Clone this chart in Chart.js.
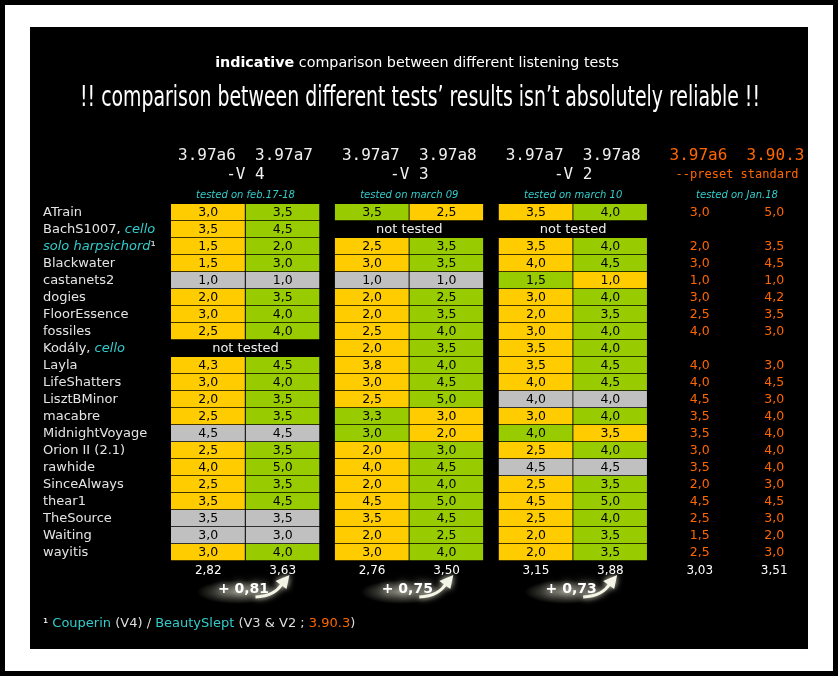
<!DOCTYPE html>
<html>
<head>
<meta charset="utf-8">
<title>listening tests comparison</title>
<script src="https://cdn.jsdelivr.net/npm/chart.js@4.4.1/dist/chart.umd.min.js"></script>
<style>
  html, body { margin: 0; padding: 0; background: #000; }
  #frame { position: absolute; left: 5px; top: 5px; width: 828px; height: 666px; background: #fff; }
  #panel { position: absolute; left: 25px; top: 22px; width: 778px; height: 622px; background: #000; }
  canvas { display: block; }
</style>
</head>
<body>
<div id="frame"><div id="panel"><canvas id="chart" width="778" height="622" style="width:778px;height:622px"></canvas></div></div>
<script>
// samples (rows of the table)
const rows = ['ATrain', 'BachS1007, cello', 'solo harpsichord¹', 'Blackwater', 'castanets2', 'dogies',
    'FloorEssence', 'fossiles', 'Kodály, cello', 'Layla', 'LifeShatters', 'LisztBMinor', 'macabre',
    'MidnightVoyage', 'Orion II (2.1)', 'rawhide', 'SinceAlways', 'thear1', 'TheSource', 'Waiting', 'wayitis'];
const cyanWords = ['solo harpsichord', 'cello'];

// notes per column (null = not tested)
const v4_a6 = [3.0, 3.5, 1.5, 1.5, 1.0, 2.0, 3.0, 2.5, null, 4.3, 3.0, 2.0, 2.5, 4.5, 2.5, 4.0, 2.5, 3.5, 3.5, 3.0, 3.0];
const v4_a7 = [3.5, 4.5, 2.0, 3.0, 1.0, 3.5, 4.0, 4.0, null, 4.5, 4.0, 3.5, 3.5, 4.5, 3.5, 5.0, 3.5, 4.5, 3.5, 3.0, 4.0];
const v3_a7 = [3.5, null, 2.5, 3.0, 1.0, 2.0, 2.0, 2.5, 2.0, 3.8, 3.0, 2.5, 3.3, 3.0, 2.0, 4.0, 2.0, 4.5, 3.5, 2.0, 3.0];
const v3_a8 = [2.5, null, 3.5, 3.5, 1.0, 2.5, 3.5, 4.0, 3.5, 4.0, 4.5, 5.0, 3.0, 2.0, 3.0, 4.5, 4.0, 5.0, 4.5, 2.5, 4.0];
const v2_a7 = [3.5, null, 3.5, 4.0, 1.5, 3.0, 2.0, 3.0, 3.5, 3.5, 4.0, 4.0, 3.0, 4.0, 2.5, 4.5, 2.5, 4.5, 2.5, 2.0, 2.0];
const v2_a8 = [4.0, null, 4.0, 4.5, 1.0, 4.0, 3.5, 4.0, 4.0, 4.5, 4.5, 4.0, 4.0, 3.5, 4.0, 4.5, 3.5, 5.0, 4.0, 3.5, 3.5];
const aps_a6 = [3.0, null, 2.0, 3.0, 1.0, 3.0, 2.5, 4.0, null, 4.0, 4.0, 4.5, 3.5, 3.5, 3.0, 3.5, 2.0, 4.5, 2.5, 1.5, 2.5];
const aps_903 = [5.0, null, 3.5, 4.5, 1.0, 4.2, 3.5, 3.0, null, 3.0, 4.5, 3.0, 4.0, 4.0, 4.0, 4.0, 3.0, 4.5, 3.0, 2.0, 3.0];

const columnAverages = [2.82, 3.63, 2.76, 3.50, 3.15, 3.88, 3.03, 3.51];
const groupGains = [0.81, 0.75, 0.73];

// column headers
const groupEncoders = ['3.97a6  3.97a7', '3.97a7  3.97a8', '3.97a7  3.97a8', '3.97a6  3.90.3'];
const groupPresets = ['-V 4', '-V 3', '-V 2', '--preset standard'];
const groupDates = ['tested on feb.17-18', 'tested on march 09', 'tested on march 10', 'tested on Jan.18'];

const columns = [v4_a6, v4_a7, v3_a7, v3_a8, v2_a7, v2_a8, aps_a6, aps_903];

const ORANGE = '#ffcc00';
const GREEN = '#99cc00';
const GRAY = '#c0c0c0';
const RED_TEXT = '#ff6600';
const CYAN = '#33cccc';
const LABEL = '#e4e4e4';
const GROUP_STEP = 2.2;   // 2 columns + gap

const fmt = (v, d) => v.toFixed(d).replace('.', ',');
const slotStart = c => Math.floor(c / 2) * GROUP_STEP + (c % 2);

function cellColor(c, i) {
    if (c >= 6) return 'rgba(0,0,0,0)';
    const mine = columns[c][i];
    const other = columns[c ^ 1][i];
    if (mine === other) return GRAY;
    return mine > other ? GREEN : ORANGE;
}

// draws a list of [text, font, color] pieces one after the other
function drawParts(ctx, parts, x, y, align) {
    let total = 0;
    parts.forEach(p => { ctx.font = p[1]; total += ctx.measureText(p[0]).width; });
    let cx = align === 'center' ? x - total / 2 : x;
    ctx.textAlign = 'left';
    parts.forEach(p => {
        ctx.font = p[1];
        ctx.fillStyle = p[2];
        ctx.fillText(p[0], cx, y);
        cx += ctx.measureText(p[0]).width;
    });
}

function rowParts(label) {
    const plain = '13px "DejaVu Sans", sans-serif';
    const ital = 'italic 13px "DejaVu Sans", sans-serif';
    for (const w of cyanWords) {
        const k = label.indexOf(w);
        if (k >= 0) {
            return [[label.slice(0, k), plain, LABEL], [w, ital, CYAN], [label.slice(k + w.length), plain, LABEL]];
        }
    }
    return [[label, plain, LABEL]];
}

function drawGain(ctx, cx, cy, gain) {
    // soft glow trail
    ctx.save();
    ctx.translate(cx - 8, cy + 3);
    ctx.scale(3.4, 1);
    const g = ctx.createRadialGradient(0, 0, 0, 0, 0, 12);
    g.addColorStop(0, 'rgba(230,230,210,0.55)');
    g.addColorStop(1, 'rgba(230,230,210,0)');
    ctx.fillStyle = g;
    ctx.beginPath();
    ctx.arc(0, 0, 12, 0, Math.PI * 2);
    ctx.fill();
    ctx.restore();

    // curved arrow
    ctx.save();
    ctx.shadowColor = 'rgba(255,255,235,0.9)';
    ctx.shadowBlur = 6;
    ctx.strokeStyle = '#f4f4e6';
    ctx.fillStyle = '#f4f4e6';
    ctx.lineWidth = 3;
    ctx.beginPath();
    ctx.moveTo(cx + 10, cy + 8);
    ctx.quadraticCurveTo(cx + 30, cy + 7, cx + 37, cy - 6);
    ctx.stroke();
    ctx.beginPath();
    ctx.moveTo(cx + 44, cy - 14);
    ctx.lineTo(cx + 30, cy - 8);
    ctx.lineTo(cx + 41, cy);
    ctx.closePath();
    ctx.fill();

    ctx.shadowColor = 'rgba(255,255,235,0.8)';
    ctx.shadowBlur = 8;
    ctx.fillStyle = '#ffffff';
    ctx.font = 'bold 14px "DejaVu Sans", sans-serif';
    ctx.textAlign = 'center';
    ctx.textBaseline = 'middle';
    ctx.fillText('+ ' + fmt(gain, 2), cx - 2, cy);
    ctx.restore();
}

const tablePlugin = {
    id: 'tableText',
    afterDatasetsDraw(chart) {
        const ctx = chart.ctx;
        const xs = chart.scales.x;
        const ys = chart.scales.y;
        ctx.save();
        ctx.textBaseline = 'middle';

        // titles
        drawParts(ctx, [
            ['indicative', 'bold 14.3px "DejaVu Sans", sans-serif', '#ffffff'],
            [' comparison between different listening tests', '14.3px "DejaVu Sans", sans-serif', '#ffffff']
        ], 387, 36, 'center');
        ctx.font = '29px "DejaVu Sans Condensed", "Liberation Sans Narrow", sans-serif';
        ctx.fillStyle = '#ffffff';
        ctx.textAlign = 'center';
        ctx.fillText('!! comparison between different tests\u2019 results isn\u2019t absolutely reliable !!', 390, 71, 680);

        // group headers
        for (let g = 0; g < 4; g++) {
            const cx = xs.getPixelForValue(g * GROUP_STEP + 1);
            const head = g === 3 ? RED_TEXT : '#f0f0f0';
            ctx.textAlign = 'center';
            ctx.fillStyle = head;
            ctx.font = '16px "DejaVu Sans Mono", monospace';
            ctx.fillText(groupEncoders[g], cx, 129);
            ctx.font = (g === 3 ? '12px' : '16px') + ' "DejaVu Sans Mono", monospace';
            ctx.fillText(groupPresets[g], cx, 148);
            ctx.font = 'italic 10px "DejaVu Sans", sans-serif';
            ctx.fillStyle = CYAN;
            ctx.fillText(groupDates[g], cx, 168);
        }

        // row labels
        rows.forEach((r, i) => drawParts(ctx, rowParts(r), 13, ys.getPixelForValue(i), 'left'));

        // cell values
        ctx.textAlign = 'center';
        ctx.font = '12.5px "DejaVu Sans", sans-serif';
        columns.forEach((col, c) => {
            const meta = chart.getDatasetMeta(c);
            meta.data.forEach((bar, i) => {
                const v = col[i];
                if (v == null) return;
                const p = bar.getProps(['x', 'y', 'base'], true);
                ctx.fillStyle = c >= 6 ? RED_TEXT : '#000000';
                ctx.fillText(fmt(v, 1), (p.x + p.base) / 2, p.y);
            });
        });

        // not tested
        ctx.fillStyle = '#f0f0f0';
        ctx.font = '13px "DejaVu Sans", sans-serif';
        rows.forEach((r, i) => {
            for (let g = 0; g < 3; g++) {
                if (columns[2 * g][i] == null) {
                    ctx.fillText('not tested', xs.getPixelForValue(g * GROUP_STEP + 1), ys.getPixelForValue(i));
                }
            }
        });

        // averages
        ctx.fillStyle = '#ffffff';
        ctx.font = '12px "DejaVu Sans", sans-serif';
        const avgY = chart.chartArea.bottom + 10;
        columnAverages.forEach((a, c) => {
            ctx.fillText(fmt(a, 2), xs.getPixelForValue(slotStart(c) + 0.5), avgY);
        });

        // gains
        groupGains.forEach((gain, g) => drawGain(ctx, xs.getPixelForValue(g * GROUP_STEP + 1), avgY + 18, gain));

        // footnote
        ctx.textBaseline = 'middle';
        const fn = '13px "DejaVu Sans", sans-serif';
        drawParts(ctx, [
            ['\u00b9 ', fn, '#ffffff'],
            ['Couperin', fn, CYAN],
            [' (V4) / ', fn, '#dddddd'],
            ['BeautySlept', fn, CYAN],
            [' (V3 & V2 ; ', fn, '#dddddd'],
            ['3.90.3', fn, RED_TEXT],
            [')', fn, '#dddddd']
        ], 13, 597, 'left');

        ctx.restore();
    }
};

new Chart(document.getElementById('chart'), {
    type: 'bar',
    data: {
        labels: rows,
        datasets: columns.map((col, c) => ({
            label: 'col' + c,
            data: col.map(v => v == null ? null : [slotStart(c), slotStart(c) + 1]),
            backgroundColor: ctx => cellColor(c, ctx.dataIndex),
            borderColor: '#000000',
            borderWidth: { right: 1, bottom: 1, top: 0, left: 0 },
            borderSkipped: false,
            grouped: false,
            barPercentage: 1,
            categoryPercentage: 1
        }))
    },
    options: {
        indexAxis: 'y',
        responsive: false,
        animation: false,
        events: [],
        layout: { padding: { left: 141, right: 4, top: 177, bottom: 88 } },
        scales: {
            x: { type: 'linear', min: 0, max: 8.5, display: false },
            y: { type: 'category', display: false }
        },
        plugins: {
            legend: { display: false },
            tooltip: { enabled: false }
        }
    },
    plugins: [tablePlugin]
});
</script>
</body>
</html>
